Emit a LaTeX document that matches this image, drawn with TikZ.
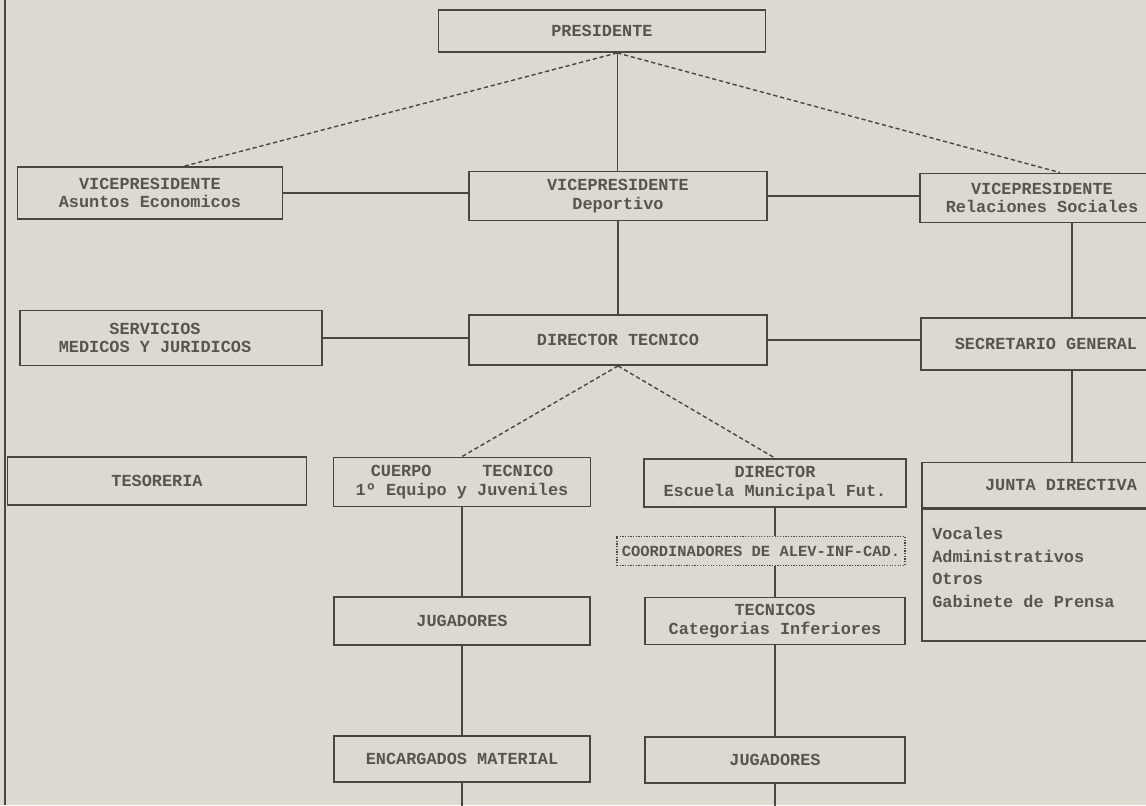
\documentclass[tikz,border=0pt]{standalone}
\usepackage{fontspec}
\setmonofont{Liberation Mono}
\usepackage{tikz}
\usepackage{xcolor}
\usetikzlibrary{positioning}
\definecolor{paper}{RGB}{220,218,208}
\definecolor{ink}{RGB}{72,70,66}
\definecolor{inktext}{RGB}{88,85,80}

\begin{document}
\begin{tikzpicture}[x=0.025cm,y=-0.025cm]
\tikzstyle{every node}+=[inner sep=0pt, font=\ttfamily\bfseries\fontsize{12}{13}\selectfont, text=inktext]
\tikzstyle{box}=[draw=ink, line width=1.3pt, rectangle, align=center]
\tikzstyle{link}=[draw=ink, line width=1pt]
\tikzstyle{diag}=[draw=ink, line width=1pt, densely dashed]
\tikzset{sz/.style 2 args={minimum width=#1*0.025cm, minimum height=#2*0.025cm}}
\useasboundingbox (0,0) rectangle (1146,805);
\fill [paper] (0,0) rectangle (1146,805);
\clip (0,0) rectangle (1146,805);
\draw [ink, line width=0.8pt] (5,0) -- (5,805);
% cabeza
\node [box, sz={327}{42}] (pres) at (602,31) {PRESIDENTE};
\coordinate (pj) at ([xshift=0.38cm]pres.south);
% vicepresidencias
\node [box, sz={265}{52}] (vpae) at (150,193) {VICEPRESIDENTE\\Asuntos Economicos};
\node [box, sz={298}{49}] (vpdep) at (618,196) {VICEPRESIDENTE\\Deportivo};
\node [box, sz={244}{49}] (vprs) at (1042,198) {VICEPRESIDENTE\\Relaciones Sociales};
% segundo nivel
\node [box, sz={302}{55}] (serv) at (171,338) {SERVICIOS\hspace*{0.8cm}\\MEDICOS Y JURIDICOS\hspace*{0.8cm}};
\node [box, sz={298}{50}] (dt) at (618,340) {DIRECTOR TECNICO};
\node [box, sz={250}{52}] (sg) at (1046,344) {SECRETARIO GENERAL};
% tercer nivel
\node [box, sz={299}{48}] (tes) at (157,481) {TESORERIA};
\node [box, sz={257}{49}] (ct) at (462,482) {CUERPO\ \ \ \ \ TECNICO\\1º Equipo y Juveniles};
\node [box, sz={262}{48}] (dir) at (775,483) {DIRECTOR\\Escuela Municipal Fut.};
\node [box, sz={278}{45}] (jd) at (1061,485) {JUNTA DIRECTIVA};
\node [box, sz={278}{132}, below=0pt of jd] (jdb) {};
\node [anchor=north west, align=left, font=\ttfamily\bfseries\fontsize{12}{16}\selectfont] (jdl) at (932,527) {Vocales\\Administrativos\\Otros\\Gabinete de Prensa};
\node [box, line width=0.9pt, densely dotted, sz={288}{29}, font=\ttfamily\bfseries\fontsize{11}{12}\selectfont] (coord) at (761,551) {COORDINADORES DE ALEV-INF-CAD.};
% jugadores
\node [box, sz={256}{48}] (jug1) at (462,621) {JUGADORES};
\node [box, sz={260}{47}] (tec) at (775,621) {TECNICOS\\Categorias Inferiores};
\node [box, sz={256}{46}] (enc) at (462,759) {ENCARGADOS MATERIAL};
\node [box, sz={260}{46}] (jug2) at (775,760) {JUGADORES};
\coordinate (encend) at (462,810);
\coordinate (jugend) at (775,810);
% conexiones
\draw [diag] (pj) -- ([xshift=0.86cm]vpae.north);
\draw [diag] (pj) -- ([xshift=0.45cm]vprs.north);
\draw [link] (pj) -- (pj |- vpdep.north);
\draw [link] (vpae.east) -- (vpae.east -| vpdep.west);
\draw [link] (vpdep.east) -- (vpdep.east -| vprs.west);
\draw [link] (vpdep.south) -- (dt.north);
\draw [link] (serv.east) -- (serv.east -| dt.west);
\draw [link] (dt.east) -- (dt.east -| sg.west);
\draw [link] ([xshift=0.75cm]vprs.south) -- ([xshift=0.75cm]vprs.south |- sg.north);
\draw [link] ([xshift=0.65cm]sg.south) -- ([xshift=0.65cm]sg.south |- jd.north);
\draw [diag] (dt.south) -- (ct.north);
\draw [diag] (dt.south) -- (dir.north);
\draw [link] (ct.south) -- (jug1.north);
\draw [link] (jug1.south) -- (enc.north);
\draw [link] (enc.south) -- (encend);
\draw [link] (dir.south) -- (dir.south |- coord.north);
\draw [link] (dir.south |- coord.south) -- (tec.north);
\draw [link] (tec.south) -- (jug2.north);
\draw [link] (jug2.south) -- (jugend);
\end{tikzpicture}
\end{document}
